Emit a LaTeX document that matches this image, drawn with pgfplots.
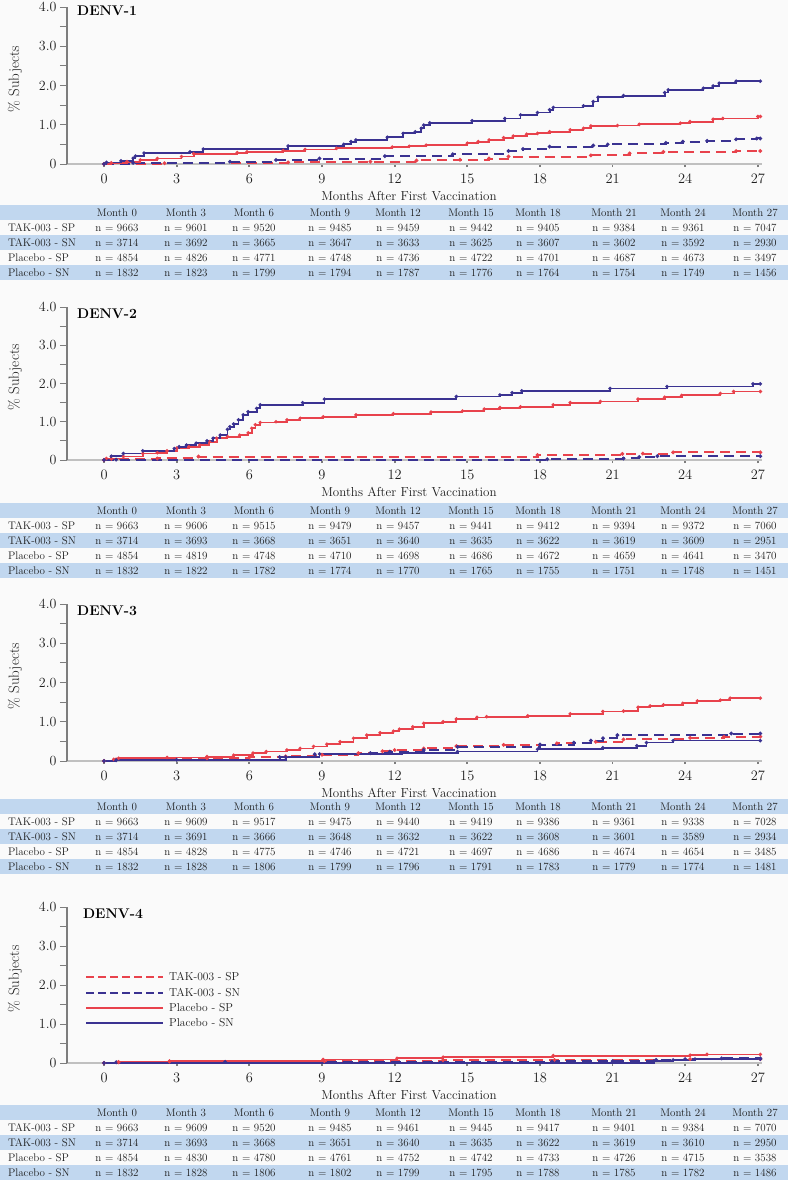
\documentclass[border=0pt]{standalone}
\usepackage{pgfplots}
\pgfplotsset{compat=1.18}
\definecolor{bg}{RGB}{250,250,250}
\definecolor{band}{RGB}{193,215,239}
\definecolor{myred}{RGB}{232,66,76}
\definecolor{myblue}{RGB}{58,50,145}
\definecolor{axgray}{RGB}{125,125,125}
\definecolor{lgray}{RGB}{192,192,192}
\definecolor{txt}{RGB}{30,30,30}

\pgfplotsset{
  denv/.style={
    scale only axis, width=695pt,
    xmin=-1.53, xmax=27.17, ymin=0, ymax=4,
    axis x line=bottom, axis y line=left,
    axis line style={-},
    x axis line style={lgray, line width=1.6pt},
    y axis line style={axgray, line width=2.6pt},
    xtick={0,3,...,27},
    ytick={0,1,2,3,4}, yticklabels={0,1.0,2.0,3.0,4.0},
    minor ytick={0.5,1.5,2.5,3.5},
    tick align=outside,
    major tick length=7pt, minor tick length=7pt,
    tick style={axgray, line width=0.8pt},
    xtick style={line width=1.8pt, /pgfplots/major tick length=3pt},
    ticklabel style={font=\fontsize{14}{16}\selectfont, text=txt},
    xlabel={Months After First Vaccination},
    xlabel style={font=\fontsize{13}{15}\selectfont, text=txt, at={(axis description cs:0.492,0)}, anchor=center, yshift=-32pt},
    ylabel={\% Subjects},
    ylabel style={font=\fontsize{15}{17}\selectfont, text=txt, at={(axis description cs:-0.0748,0.54)}, anchor=center},
    clip=false,
  },
  sA/.style={myred, const plot, line width=2pt, dash pattern=on 10pt off 6pt, mark=*, mark size=0.7pt, mark options={solid}},
  sB/.style={myblue, const plot, line width=2pt, dash pattern=on 10pt off 6pt, mark=*, mark size=0.7pt, mark options={solid}},
  sC/.style={myred, const plot, line width=1.8pt, mark=*, mark size=0.7pt},
  sD/.style={myblue, const plot, line width=1.8pt, mark=*, mark size=0.7pt},
}
\tikzset{
  lgA/.style={draw=myred, line width=1.8pt, dash pattern=on 8pt off 4pt},
  lgB/.style={draw=myblue, line width=1.8pt, dash pattern=on 8pt off 4pt},
  lgC/.style={draw=myred, line width=1.8pt},
  lgD/.style={draw=myblue, line width=1.8pt},
  lgT/.style={anchor=west, inner sep=0pt, text=txt, font=\fontsize{11.5}{13}\selectfont},
}

\newcommand{\colx}{{117,186,254,330,398,471,538,614,683,755}}
\newcommand{\ntable}[5]{%
\begin{scope}[x=1pt,y=-1pt,font=\fontsize{11}{13}\selectfont, text=txt]
\fill[band] (0,#1) rectangle (788,#1+15);
\fill[band] (0,#1+30) rectangle (788,#1+45);
\fill[band] (0,#1+60) rectangle (788,#1+75);
\foreach \m [count=\i] in {0,3,...,27}{\pgfmathsetmacro\cx{\colx[\i-1]}\node at (\cx,#1+7.5) {Month \m};}
\node[anchor=west] at (4.5,#1+22.5) {TAK-003 - SP};
\node[anchor=west] at (4.5,#1+37.5) {TAK-003 - SN};
\node[anchor=west] at (4.5,#1+52.5) {Placebo - SP};
\node[anchor=west] at (4.5,#1+67.5) {Placebo - SN};
\foreach \v [count=\i] in {#2}{\pgfmathsetmacro\cx{\colx[\i-1]}\node at (\cx,#1+22.5) {n = \v};}
\foreach \v [count=\i] in {#3}{\pgfmathsetmacro\cx{\colx[\i-1]}\node at (\cx,#1+37.5) {n = \v};}
\foreach \v [count=\i] in {#4}{\pgfmathsetmacro\cx{\colx[\i-1]}\node at (\cx,#1+52.5) {n = \v};}
\foreach \v [count=\i] in {#5}{\pgfmathsetmacro\cx{\colx[\i-1]}\node at (\cx,#1+67.5) {n = \v};}
\end{scope}}

\begin{document}
\begin{tikzpicture}
\path[use as bounding box, fill=bg] (0,0) rectangle (788pt,-1180pt);

% ---------------- DENV-1
\begin{axis}[denv, height=157pt, at={(67pt,-164pt)}, anchor=south west]
\addplot[sA] coordinates {(0,0) (2.5,0.02) (7.6,0.04) (11,0.06) (12.9,0.09) (14.7,0.11) (15.9,0.14) (16.7,0.19) (20.1,0.22) (21.7,0.27) (23.1,0.31) (26.1,0.33) (27.1,0.33)};
\addplot[sB] coordinates {(0,0) (1.2,0.03) (5.2,0.06) (7.1,0.10) (8.9,0.14) (11.6,0.20) (14.4,0.25) (16.7,0.33) (17.3,0.38) (18.4,0.44) (20.2,0.47) (20.8,0.50) (23.2,0.54) (23.9,0.57) (24.9,0.59) (26.1,0.63) (26.95,0.65) (27.1,0.65)};
\addplot[sC] coordinates {(0,0) (0.3,0.03) (0.95,0.06) (1.5,0.1) (2.2,0.14) (3.2,0.19) (3.7,0.26) (5.5,0.29) (5.9,0.31) (7.4,0.34) (8.3,0.37) (9.6,0.40) (11.9,0.43) (12.6,0.45) (13.3,0.48) (15,0.53) (15.45,0.57) (15.9,0.61) (16.5,0.67) (16.9,0.71) (17.45,0.76) (17.9,0.78) (18.4,0.82) (19.25,0.87) (19.8,0.91) (20.1,0.97) (21.2,0.98) (22.1,1.01) (23.8,1.04) (24.2,1.08) (25.15,1.14) (25.55,1.16) (27.0,1.21) (27.1,1.21)};
\addplot[sD] coordinates {(0,0) (0.1,0.04) (0.7,0.08) (1.2,0.15) (1.3,0.2) (1.65,0.28) (3.55,0.31) (4.1,0.38) (7.6,0.46) (9.9,0.5) (10.2,0.57) (10.4,0.61) (11.7,0.68) (12.35,0.78) (12.85,0.82) (13.1,0.91) (13.2,0.99) (13.45,1.05) (15.2,1.10) (16.55,1.16) (17.2,1.25) (17.9,1.31) (18.4,1.38) (18.55,1.44) (19.8,1.48) (20.2,1.59) (20.4,1.70) (21.45,1.74) (23.15,1.82) (23.3,1.89) (24.75,1.93) (25.15,1.99) (25.4,2.06) (26.1,2.11) (27.1,2.11)};
\node[anchor=north west, inner sep=0pt, font=\bfseries\fontsize{14}{16}\selectfont] at (rel axis cs:0.0144,1.01) {DENV-1};
\end{axis}
\ntable{205}{9663,9601,9520,9485,9459,9442,9405,9384,9361,7047}{3714,3692,3665,3647,3633,3625,3607,3602,3592,2930}{4854,4826,4771,4748,4736,4722,4701,4687,4673,3497}{1832,1823,1799,1794,1787,1776,1764,1754,1749,1456}

% ---------------- DENV-2
\begin{axis}[denv, height=153pt, at={(67pt,-460pt)}, anchor=south west]
\addplot[sA] coordinates {(0,0) (0.3,0.03) (2.2,0.04) (3.9,0.09) (17.9,0.13) (21.4,0.16) (22.25,0.17) (23.5,0.2) (27.1,0.2)};
\addplot[sB] coordinates {(0,0) (0.5,0.01) (18.3,0.02) (21.45,0.04) (22.1,0.08) (22.85,0.1) (27.1,0.1)};
\addplot[sC] coordinates {(0,0) (0.1,0.04) (0.8,0.09) (1.6,0.17) (2.2,0.19) (2.6,0.24) (3.0,0.31) (3.5,0.35) (3.95,0.39) (4.35,0.48) (4.65,0.57) (5.1,0.61) (5.6,0.65) (5.95,0.71) (6.1,0.83) (6.25,0.92) (6.45,0.98) (7.1,1.0) (7.55,1.05) (8.1,1.09) (9.05,1.13) (10.4,1.18) (11.95,1.21) (13.5,1.25) (14.8,1.28) (15.7,1.33) (16.35,1.37) (17.2,1.39) (18.55,1.44) (19.25,1.5) (20.5,1.53) (22.05,1.59) (23.15,1.64) (23.85,1.69) (25.45,1.74) (26.0,1.79) (27.1,1.79)};
\addplot[sD] coordinates {(0,0) (0.3,0.1) (0.8,0.17) (1.6,0.24) (2.9,0.30) (3.1,0.35) (3.4,0.39) (3.8,0.44) (4.25,0.5) (4.5,0.57) (4.8,0.65) (5.1,0.8) (5.2,0.87) (5.35,0.94) (5.55,1.05) (5.75,1.18) (5.95,1.26) (6.3,1.35) (6.45,1.44) (8.2,1.5) (9.1,1.59) (14.55,1.66) (16.35,1.7) (16.85,1.76) (17.25,1.81) (20.9,1.87) (23.25,1.92) (26.8,1.99) (27.1,1.99)};
\node[anchor=north west, inner sep=0pt, font=\bfseries\fontsize{14}{16}\selectfont] at (rel axis cs:0.0144,0.99) {DENV-2};
\end{axis}
\ntable{503}{9663,9606,9515,9479,9457,9441,9412,9394,9372,7060}{3714,3693,3668,3651,3640,3635,3622,3619,3609,2951}{4854,4819,4748,4710,4698,4686,4672,4659,4641,3470}{1832,1822,1782,1774,1770,1765,1755,1751,1748,1451}

% ---------------- DENV-3
\begin{axis}[denv, height=157pt, at={(67pt,-761pt)}, anchor=south west]
\addplot[sA] coordinates {(0,0) (0.5,0.04) (4.25,0.07) (6.0,0.09) (7.5,0.12) (9.0,0.16) (10.5,0.2) (11.5,0.25) (12.0,0.28) (13.2,0.32) (14.55,0.38) (16.5,0.41) (18.7,0.45) (20.3,0.49) (21.45,0.55) (24.2,0.59) (25.6,0.62) (27.1,0.62)};
\addplot[sB] coordinates {(0,0) (0.5,0.02) (3.0,0.03) (7.5,0.1) (8.7,0.17) (11.0,0.2) (11.8,0.24) (13.2,0.28) (14.6,0.36) (18.0,0.42) (19.4,0.47) (20.1,0.52) (20.6,0.58) (21.2,0.66) (25.9,0.7) (27.1,0.7)};
\addplot[sC] coordinates {(0,0) (0.4,0.04) (0.6,0.07) (2.6,0.09) (4.25,0.11) (5.35,0.15) (6.15,0.2) (6.7,0.24) (7.55,0.28) (8.1,0.32) (8.65,0.37) (9.2,0.43) (9.75,0.49) (10.3,0.58) (10.85,0.66) (11.4,0.72) (11.95,0.76) (12.2,0.81) (12.75,0.87) (13.2,0.96) (14.0,1.0) (14.55,1.07) (15.4,1.11) (15.8,1.13) (17.5,1.15) (19.25,1.2) (20.6,1.26) (21.45,1.27) (22.05,1.37) (22.55,1.4) (23.1,1.43) (23.9,1.47) (24.5,1.53) (25.45,1.55) (25.85,1.6) (27.1,1.6)};
\addplot[sD] coordinates {(0,0) (0.5,0.02) (7.25,0.1) (8.9,0.18) (12.3,0.2) (14.6,0.24) (17.9,0.3) (20.6,0.34) (22.0,0.39) (22.4,0.47) (23.5,0.52) (27.1,0.52)};
\node[anchor=north west, inner sep=0pt, font=\bfseries\fontsize{14}{16}\selectfont] at (rel axis cs:0.0144,0.99) {DENV-3};
\end{axis}
\ntable{799}{9663,9609,9517,9475,9440,9419,9386,9361,9338,7028}{3714,3691,3666,3648,3632,3622,3608,3601,3589,2934}{4854,4828,4775,4746,4721,4697,4686,4674,4654,3485}{1832,1828,1806,1799,1796,1791,1783,1779,1774,1481}

% ---------------- DENV-4
\begin{axis}[denv, height=156pt, at={(67pt,-1063pt)}, anchor=south west]
\addplot[sA] coordinates {(0,0) (0.6,0.02) (2.7,0.04) (9.1,0.05) (14.0,0.07) (18.6,0.08) (24.2,0.1) (27.1,0.1)};
\addplot[sB] coordinates {(0,0) (0.5,0.02) (5.0,0.03) (18.5,0.04) (21.0,0.05) (22.8,0.08) (24.0,0.1) (25.5,0.12) (27.1,0.12)};
\addplot[sC] coordinates {(0,0) (0.6,0.03) (2.7,0.05) (9.05,0.09) (12.1,0.12) (14.0,0.15) (18.55,0.19) (24.2,0.2) (24.9,0.22) (27.1,0.22)};
\addplot[sD] coordinates {(0,0) (22.7,0.05) (23.5,0.08) (24.4,0.1) (27.1,0.1)};
\node[anchor=north west, inner sep=0pt, font=\bfseries\fontsize{14}{16}\selectfont] at (rel axis cs:0.023,0.99) {DENV-4};
% legend
\draw[lgA] ([xshift=19pt,yshift=86pt]axis description cs:0,0) -- ++(77pt,0pt);
\draw[lgB] ([xshift=19pt,yshift=70pt]axis description cs:0,0) -- ++(77pt,0pt);
\draw[lgC] ([xshift=19pt,yshift=55pt]axis description cs:0,0) -- ++(77pt,0pt);
\draw[lgD] ([xshift=19pt,yshift=40pt]axis description cs:0,0) -- ++(77pt,0pt);
\node[lgT] at ([xshift=102pt,yshift=86pt]axis description cs:0,0) {TAK-003 - SP};
\node[lgT] at ([xshift=102pt,yshift=70pt]axis description cs:0,0) {TAK-003 - SN};
\node[lgT] at ([xshift=102pt,yshift=55pt]axis description cs:0,0) {Placebo - SP};
\node[lgT] at ([xshift=102pt,yshift=40pt]axis description cs:0,0) {Placebo - SN};
\end{axis}
\ntable{1105}{9663,9609,9520,9485,9461,9445,9417,9401,9384,7070}{3714,3693,3668,3651,3640,3635,3622,3619,3610,2950}{4854,4830,4780,4761,4752,4742,4733,4726,4715,3538}{1832,1828,1806,1802,1799,1795,1788,1785,1782,1486}
\end{tikzpicture}
\end{document}
